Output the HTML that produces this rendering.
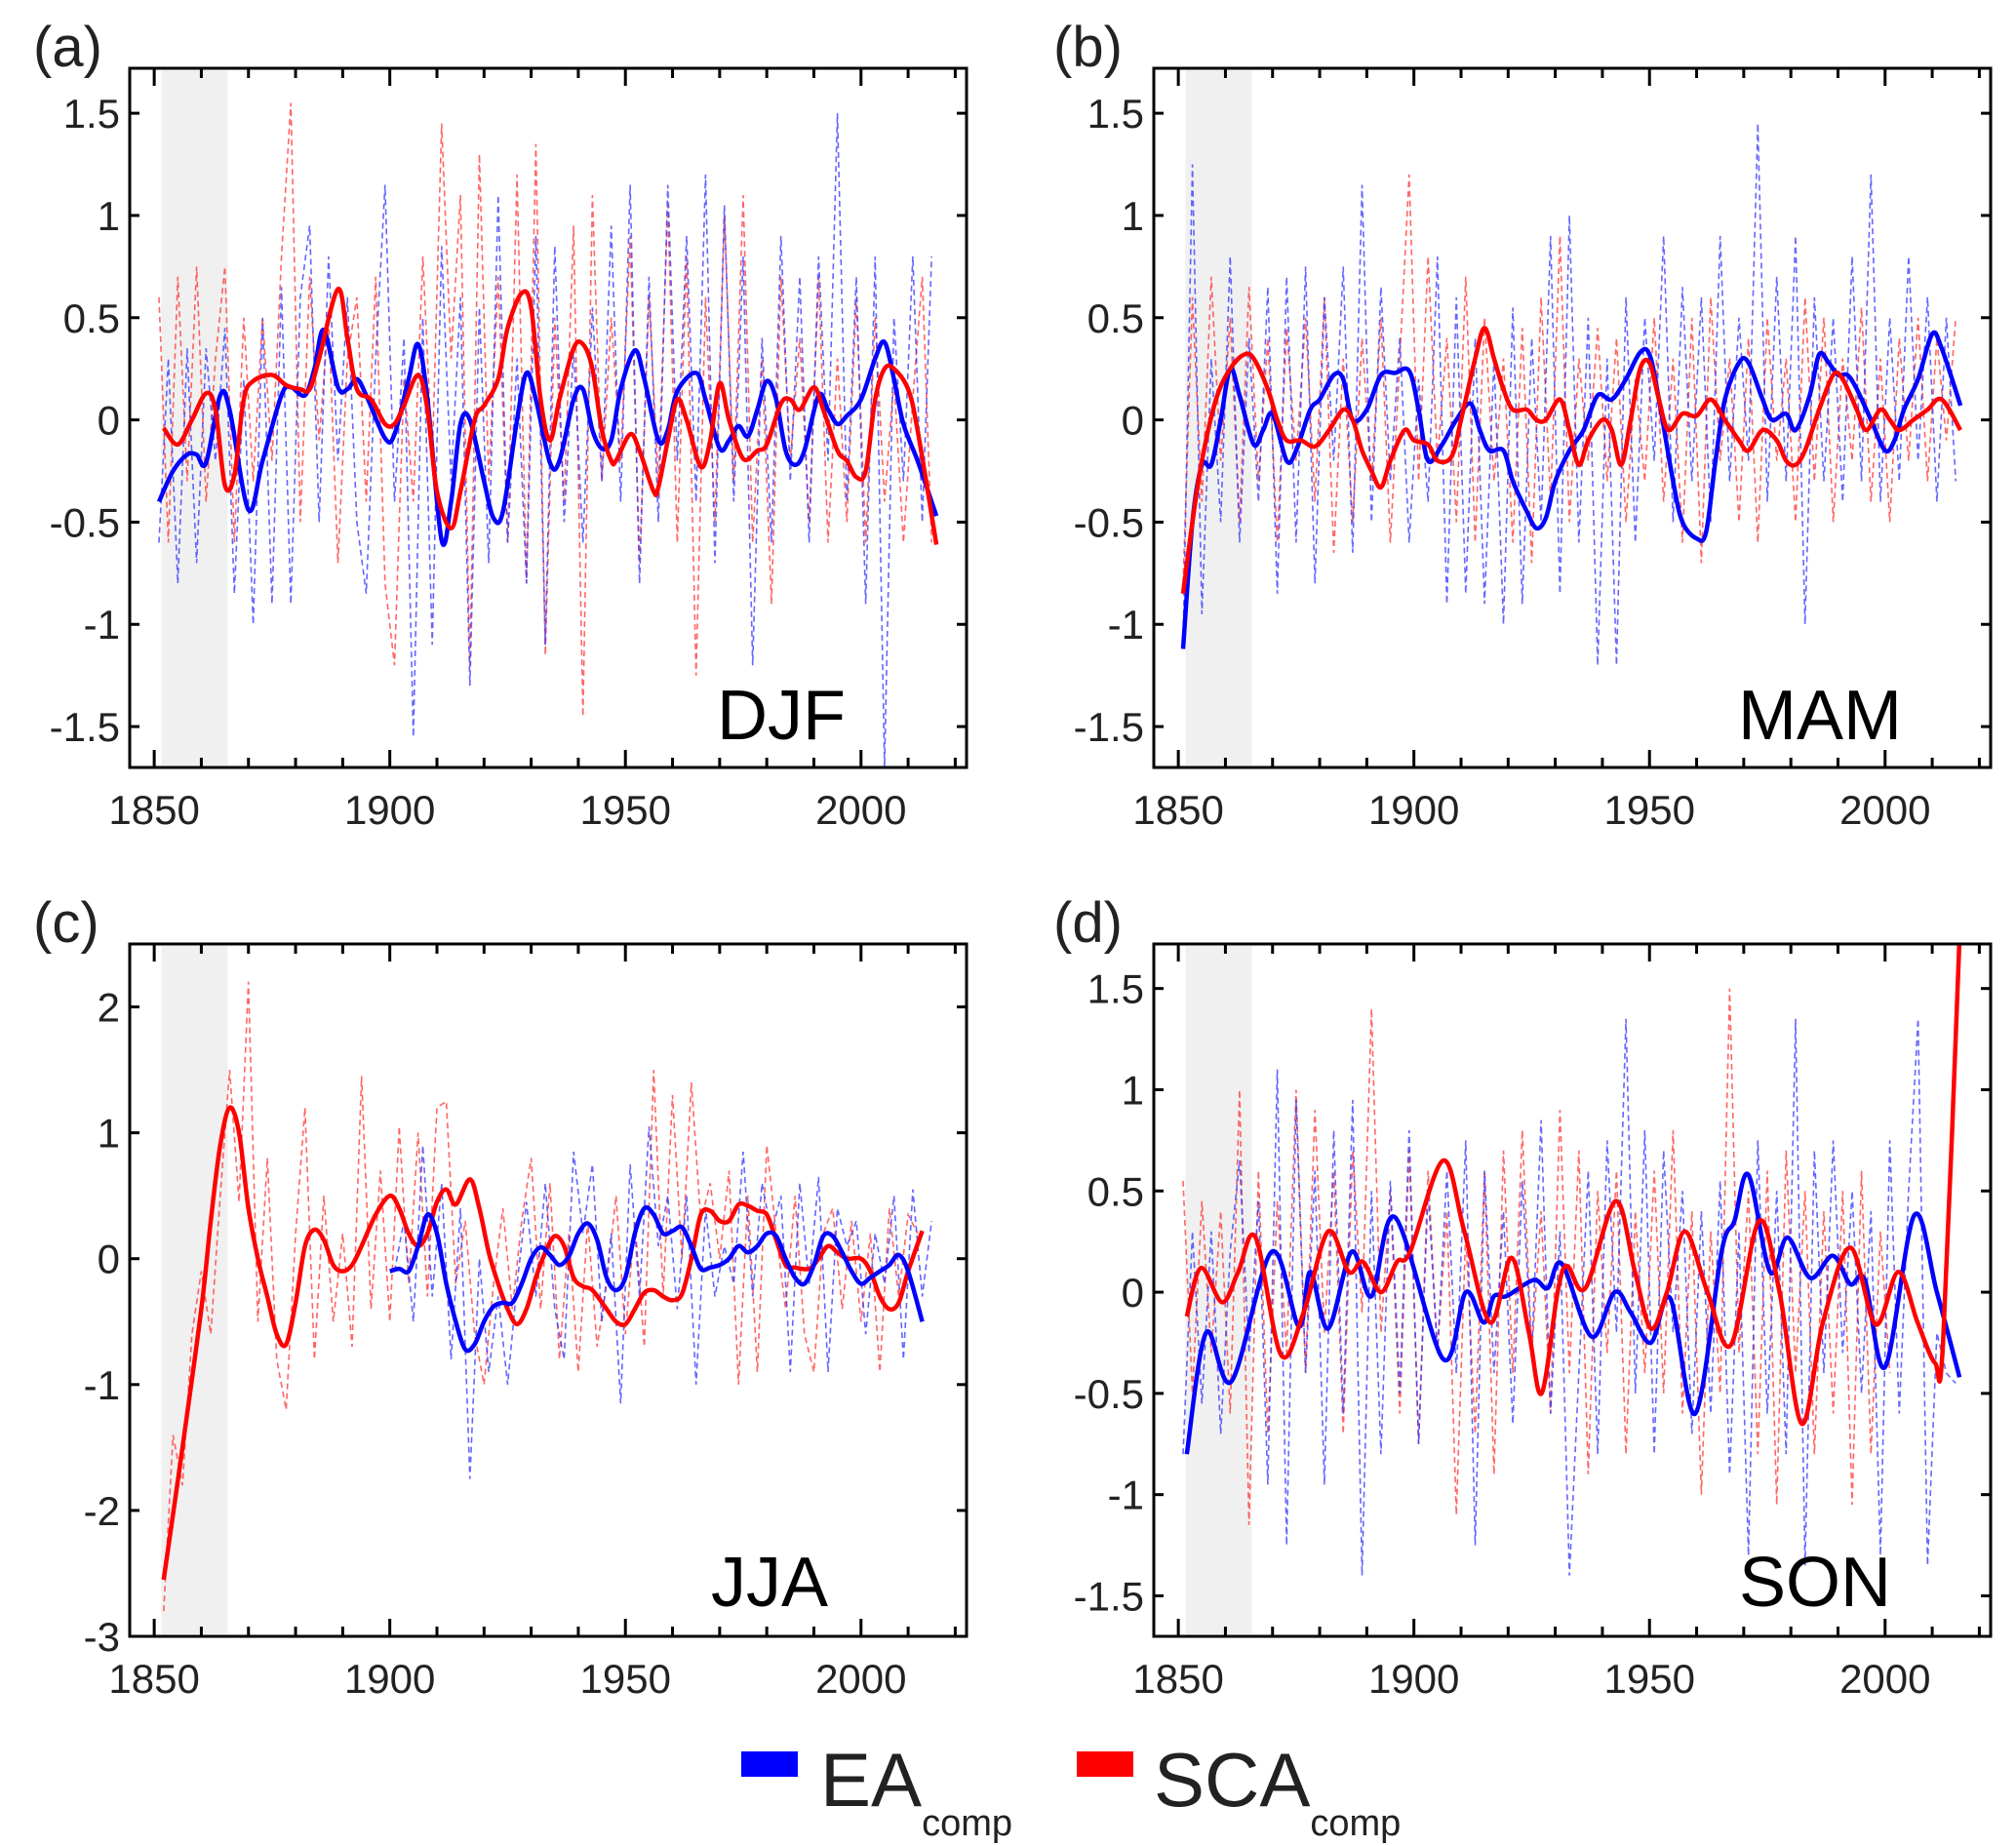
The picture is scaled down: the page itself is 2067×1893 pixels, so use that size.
<!DOCTYPE html>
<html><head><meta charset="utf-8">
<style>
html,body{margin:0;padding:0;background:#fff;}
svg{display:block;font-family:"Liberation Sans",Arial,sans-serif;}
</style></head>
<body>
<svg id="fig" width="2067" height="1893" viewBox="0 0 2067 1893" xmlns="http://www.w3.org/2000/svg">
<g id="panels"></g>
<g>
  <rect x="760" y="1796" width="58" height="26" fill="#0000ff"/>
  <text x="841" y="1852" font-size="78" fill="#222">EA<tspan font-size="38" dy="30">comp</tspan></text>
  <rect x="1104" y="1796" width="58" height="26" fill="#ff0000"/>
  <text x="1183" y="1852" font-size="78" fill="#222">SCA<tspan font-size="38" dy="30">comp</tspan></text>
</g>
</svg>
<script>
// ---- Panel (a) DJF ----
const aEaYears=[1851,1854,1857,1859,1861,1864,1866,1870,1873,1877,1879,1882,1884,1886,1889,1891,1893,1895,1899,1901,1904,1906,1908,1911,1913,1915,1917,1920,1922,1924,1927,1929,1931,1934,1936,1939,1941,1943,1945,1947,1949,1952,1954,1957,1959,1961,1965,1967,1970,1972,1974,1976,1978,1980,1982,1984,1986,1988,1991,1993,1995,1997,2000,2003,2005,2007,2009,2012,2016];
const aEaVals=[-0.40,-0.25,-0.17,-0.17,-0.21,0.12,0.05,-0.44,-0.2,0.12,0.16,0.12,0.25,0.44,0.16,0.15,0.20,0.12,-0.09,-0.07,0.20,0.37,0.1,-0.59,-0.4,-0.02,0.0,-0.3,-0.48,-0.45,0.0,0.23,0.1,-0.21,-0.2,0.1,0.15,-0.05,-0.14,-0.1,0.15,0.34,0.2,-0.1,-0.05,0.14,0.23,0.1,-0.14,-0.1,-0.03,-0.08,0.05,0.19,0.1,-0.15,-0.22,-0.15,0.12,0.05,-0.02,0.02,0.1,0.3,0.38,0.2,-0.02,-0.2,-0.47];
const aScaYears=[1852,1855,1858,1861,1863,1865,1867,1869,1871,1875,1878,1881,1883,1885,1889,1891,1893,1896,1899,1901,1903,1906,1908,1910,1913,1915,1918,1920,1923,1925,1928,1930,1932,1934,1936,1939,1941,1943,1945,1947,1948,1951,1953,1956,1957,1959,1961,1963,1966,1968,1970,1972,1975,1978,1980,1983,1985,1987,1990,1992,1995,1997,1999,2001,2003,2005,2007,2010,2012,2016];
const aScaVals=[-0.04,-0.12,0.0,0.13,0.05,-0.32,-0.27,0.1,0.19,0.22,0.17,0.15,0.15,0.3,0.64,0.4,0.15,0.1,-0.02,-0.02,0.07,0.22,0.05,-0.35,-0.53,-0.35,0.0,0.07,0.2,0.45,0.62,0.55,0.1,-0.1,0.1,0.35,0.37,0.25,-0.05,-0.2,-0.2,-0.07,-0.15,-0.35,-0.33,-0.1,0.1,0.0,-0.23,-0.1,0.18,0.0,-0.19,-0.15,-0.12,0.08,0.1,0.05,0.16,0.05,-0.15,-0.2,-0.28,-0.25,0.1,0.25,0.25,0.15,-0.05,-0.61];
const aEaRaw=[-0.6,0.3,-0.8,0.35,-0.7,0.35,-0.2,0.45,-0.85,0.2,-1.0,0.5,-0.9,0.65,-0.9,0.6,0.95,-0.5,0.8,-0.2,0.6,-0.5,-0.85,0.3,1.15,-0.4,0.4,-1.55,0.5,-1.1,0.85,-0.3,0.6,-1.3,0.55,-0.7,1.1,-0.6,0.3,-0.8,0.9,-1.1,0.85,-0.5,0.35,-0.6,0.55,-0.3,0.95,-0.4,1.15,-0.8,0.7,-0.5,1.15,-0.2,0.9,-0.4,1.2,-0.7,1.05,-0.4,0.8,-1.2,0.4,-0.6,0.9,-0.3,0.7,-0.6,0.8,-0.2,1.5,-0.4,0.7,-0.9,0.8,-1.7,0.5,-0.3,0.8,-0.5,0.8];
const aScaRaw=[0.6,-0.6,0.7,-0.3,0.75,-0.4,0.3,0.75,-0.6,0.5,-0.3,0.5,-0.2,0.8,1.55,-0.5,0.7,-0.1,0.5,-0.7,0.3,0.6,-0.4,0.7,-0.8,-1.2,0.2,-0.4,0.8,-0.2,1.45,0.3,1.1,-1.2,1.3,-0.3,0.7,-0.6,1.2,-0.8,1.35,-1.15,0.5,-0.4,0.95,-1.45,1.1,-0.3,0.5,-0.2,0.9,-0.7,0.6,-0.3,1.05,-0.6,0.8,-1.25,0.6,-0.5,1.0,-0.3,1.1,-0.6,0.3,-0.9,0.7,-0.2,0.4,-0.5,0.7,-0.6,0.3,-0.5,0.6,-0.6,0.5,-0.4,0.2,-0.6,0.1,0.7,-0.6];

// ---- Panel (b) MAM ----
const bEaYears=[1851,1853,1855,1857,1859,1861,1863,1866,1868,1870,1873,1875,1878,1880,1883,1885,1887,1890,1893,1896,1899,1901,1903,1906,1909,1912,1914,1916,1919,1921,1924,1926,1928,1930,1933,1936,1939,1942,1945,1948,1950,1952,1955,1957,1960,1962,1964,1966,1969,1971,1974,1976,1979,1981,1984,1986,1988,1990,1992,1994,1997,2000,2002,2004,2007,2010,2012,2016];
const bEaVals=[-1.12,-0.5,-0.22,-0.22,0.0,0.25,0.12,-0.12,-0.05,0.03,-0.2,-0.15,0.05,0.1,0.22,0.2,0.0,0.05,0.22,0.23,0.24,0.05,-0.2,-0.12,0.0,0.08,-0.05,-0.15,-0.15,-0.3,-0.45,-0.53,-0.48,-0.3,-0.15,-0.05,0.12,0.1,0.2,0.33,0.32,0.1,-0.3,-0.5,-0.58,-0.55,-0.2,0.1,0.28,0.28,0.1,0.0,0.03,-0.05,0.12,0.32,0.28,0.22,0.22,0.15,0.0,-0.15,-0.1,0.05,0.2,0.42,0.35,0.07];
const bScaYears=[1851,1853,1855,1858,1861,1864,1866,1869,1871,1873,1876,1879,1882,1885,1887,1889,1891,1893,1895,1898,1900,1903,1905,1908,1910,1913,1915,1917,1919,1921,1924,1926,1928,1931,1933,1935,1937,1940,1942,1944,1946,1948,1950,1952,1954,1957,1960,1963,1966,1969,1971,1974,1977,1979,1981,1983,1986,1989,1991,1994,1996,1999,2001,2003,2006,2009,2012,2016];
const bScaVals=[-0.85,-0.5,-0.2,0.1,0.25,0.32,0.3,0.15,0.0,-0.1,-0.1,-0.13,-0.05,0.05,0.0,-0.15,-0.25,-0.33,-0.2,-0.05,-0.1,-0.12,-0.2,-0.18,0.0,0.3,0.45,0.3,0.15,0.05,0.05,0.0,0.0,0.1,-0.05,-0.22,-0.1,0.0,-0.05,-0.22,0.0,0.25,0.28,0.1,-0.05,0.03,0.02,0.1,0.0,-0.1,-0.15,-0.05,-0.1,-0.2,-0.22,-0.15,0.05,0.22,0.2,0.05,-0.05,0.05,0.0,-0.05,0.0,0.05,0.1,-0.05];
const bEaRaw=[-1.1,1.25,-0.95,0.3,-0.5,0.8,-0.6,0.4,-0.4,0.65,-0.85,0.7,-0.6,0.75,-0.8,0.6,-0.2,0.75,-0.65,1.15,-0.5,0.65,-0.3,0.4,-0.6,0.2,-0.4,0.8,-0.9,0.6,-0.85,0.4,-0.9,0.3,-1.0,0.55,-0.9,0.4,-0.5,0.9,-0.85,1.0,-0.6,0.5,-1.2,0.3,-1.2,0.6,-0.6,0.5,-0.2,0.9,-0.5,0.65,-0.3,0.6,-0.5,0.9,-0.3,0.5,-0.2,1.45,-0.4,0.7,-0.3,0.9,-1.0,0.6,-0.3,0.5,-0.4,0.8,-0.3,1.2,-0.4,0.5,-0.3,0.8,-0.2,0.6,-0.4,0.5,-0.3];
const bScaRaw=[-0.8,0.6,-0.4,0.7,-0.2,0.5,-0.5,0.65,-0.3,0.4,-0.6,0.45,-0.2,0.5,-0.4,0.6,-0.65,0.3,-0.5,0.4,-0.3,0.5,-0.6,0.3,1.2,-0.3,0.8,-0.2,0.4,-0.5,0.7,-0.6,0.5,-0.3,0.3,-0.6,0.45,-0.7,0.6,-0.4,0.9,-0.5,0.3,-0.2,0.45,-0.3,0.4,-0.5,0.2,-0.3,0.5,-0.4,0.3,-0.6,0.5,-0.7,0.6,-0.2,0.3,-0.5,0.4,-0.6,0.5,-0.2,0.3,-0.5,0.6,-0.3,0.5,-0.5,0.3,-0.2,0.55,-0.4,0.3,-0.5,0.4,-0.2,0.5,-0.3,0.4,-0.1,0.5];

// ---- Panel (c) JJA ----
const cEaYears=[1900,1902,1904,1906,1908,1910,1912,1914,1916,1918,1920,1922,1924,1926,1928,1930,1932,1934,1936,1938,1940,1942,1944,1946,1948,1950,1952,1954,1956,1958,1960,1962,1964,1966,1968,1970,1972,1974,1976,1978,1980,1982,1984,1986,1988,1990,1992,1994,1996,1998,2000,2002,2004,2006,2008,2010,2013];
const cEaVals=[-0.1,-0.08,-0.1,0.1,0.35,0.2,-0.2,-0.5,-0.72,-0.68,-0.5,-0.38,-0.35,-0.35,-0.2,0.0,0.09,0.03,-0.05,0.02,0.2,0.28,0.15,-0.15,-0.25,-0.15,0.2,0.4,0.35,0.2,0.22,0.25,0.1,-0.08,-0.07,-0.05,0.0,0.1,0.05,0.1,0.2,0.18,0.0,-0.15,-0.2,-0.05,0.18,0.18,0.05,-0.1,-0.2,-0.15,-0.1,-0.05,0.03,-0.1,-0.5];
const cScaYears=[1852,1856,1860,1862,1864,1866,1868,1870,1872,1874,1876,1878,1880,1882,1884,1886,1888,1890,1892,1894,1897,1900,1902,1904,1906,1908,1910,1912,1914,1917,1919,1921,1923,1925,1927,1929,1931,1933,1935,1937,1939,1941,1943,1946,1948,1950,1952,1954,1956,1958,1960,1962,1964,1966,1968,1970,1972,1974,1976,1978,1980,1982,1984,1986,1989,1991,1993,1995,1997,2000,2002,2004,2006,2008,2010,2013];
const cScaVals=[-2.55,-1.5,-0.4,0.3,0.9,1.2,1.0,0.4,0.0,-0.3,-0.6,-0.68,-0.35,0.1,0.23,0.15,-0.05,-0.1,-0.05,0.1,0.35,0.5,0.4,0.2,0.1,0.2,0.45,0.55,0.43,0.63,0.4,0.05,-0.2,-0.4,-0.52,-0.4,-0.15,0.05,0.18,0.1,-0.15,-0.22,-0.25,-0.4,-0.5,-0.52,-0.4,-0.27,-0.25,-0.3,-0.33,-0.28,0.0,0.35,0.38,0.3,0.3,0.43,0.42,0.38,0.35,0.15,-0.05,-0.07,-0.08,0.0,0.1,0.05,0.0,0.0,-0.1,-0.3,-0.4,-0.35,-0.1,0.22];
const cEaRaw=[-0.1,0.3,-0.5,0.9,-0.3,0.6,-0.8,0.4,-1.75,0.0,-0.9,-0.3,-1.0,-0.2,0.45,-0.3,0.6,-0.4,-0.8,0.85,0.2,0.75,-0.5,0.2,-1.15,0.75,-0.3,1.05,0.1,0.5,-0.4,0.5,-1.0,0.4,-0.3,0.1,-0.2,0.85,-0.3,0.6,0.2,0.5,-0.9,0.6,-0.2,0.65,-0.9,0.4,0.1,0.3,-0.6,0.2,-0.2,0.5,-0.8,0.55,-0.3,0.3];
const cScaRaw=[-2.8,-1.4,-1.8,-0.6,-0.1,-0.6,0.5,1.5,0.45,2.2,-0.5,0.8,-0.8,-1.2,0.2,1.2,-0.8,0.5,-0.5,0.2,-0.7,1.45,-0.4,0.7,-0.5,1.05,-0.2,1.0,-0.3,1.2,1.25,-0.2,0.3,-0.6,-1.0,-0.2,0.4,-0.4,0.3,0.8,-0.4,0.6,-0.8,0.2,-0.9,0.3,-0.7,-0.2,0.5,-0.6,0.3,-0.7,1.5,-0.3,1.3,0.0,1.4,0.3,0.6,0.0,0.7,-1.0,0.5,-0.9,0.9,0.2,-0.4,0.5,-0.6,-0.9,0.2,0.4,-0.4,0.3,-0.5,0.2,-0.9,0.4,-0.3,0.35,0.2];

// ---- Panel (d) SON ----
const dEaYears=[1851.8,1855.9,1861.3,1869.8,1875.6,1878,1881.8,1886.8,1891,1896,1906.2,1911,1914.8,1917,1919.6,1925.4,1928.4,1931.4,1937.7,1942.6,1946,1950.3,1954.4,1959.7,1965.3,1968,1971,1975.6,1979.3,1984.1,1988.9,1992.6,1995.7,2000,2006.2,2011,2015.8];
const dEaVals=[-0.8,-0.2,-0.44,0.2,-0.17,0.1,-0.18,0.2,-0.02,0.37,-0.33,0.0,-0.15,-0.02,-0.02,0.06,0.02,0.14,-0.22,0.0,-0.1,-0.25,-0.03,-0.6,0.2,0.35,0.58,0.1,0.27,0.07,0.18,0.04,0.06,-0.37,0.38,0.0,-0.42];
const dScaYears=[1851.8,1854.8,1859.3,1862.7,1866.4,1871.8,1876.6,1881.8,1886.2,1889.2,1893,1896.4,1899.2,1906.2,1910.7,1916.2,1920.7,1924.4,1927.1,1930.5,1932.5,1936.4,1942.8,1946.9,1950.3,1953.7,1957.5,1962.3,1967.3,1973.2,1977.6,1982.3,1986.8,1992.6,1998,2002.8,2006.9,2010.6,2012.3,2015.8];
const dScaVals=[-0.12,0.12,-0.05,0.1,0.27,-0.31,-0.1,0.3,0.1,0.15,0.0,0.15,0.2,0.65,0.3,-0.15,0.17,-0.2,-0.5,0.0,0.13,0.02,0.45,0.1,-0.18,0.0,0.3,0.0,-0.26,0.35,0.0,-0.65,-0.15,0.22,-0.16,0.1,-0.15,-0.35,-0.25,1.75];
const dEaRaw=[-0.8,0.3,-0.55,0.3,-0.7,0.2,0.65,-0.3,0.45,-0.95,1.1,-1.25,0.95,-0.4,0.6,-0.95,0.8,-0.6,0.95,-1.4,0.5,-0.8,0.55,-0.5,0.8,-0.75,0.5,-0.3,0.6,-0.4,0.75,-1.25,0.6,-0.4,0.4,-0.65,0.55,-0.3,0.85,-0.6,0.3,-1.4,-0.4,0.6,-0.8,0.75,-0.2,1.35,-0.5,0.8,-0.8,0.7,-0.2,0.5,-0.7,0.4,-0.6,0.55,-0.9,0.3,-1.3,0.75,-0.6,0.5,-0.8,1.35,-1.35,0.7,-0.4,0.75,-0.3,0.5,-0.5,0.4,-1.3,0.75,-0.6,0.5,1.35,-1.35,-0.2,-0.4,-0.45];
const dScaRaw=[0.55,-0.5,0.45,-0.3,0.4,-0.6,1.0,-1.15,0.6,-0.7,0.45,-0.3,1.0,-0.4,0.9,-0.2,0.6,-0.7,0.7,-0.1,1.4,-0.2,0.5,-0.6,0.7,-0.75,0.6,-0.3,0.4,-1.1,0.3,-0.7,0.6,-0.9,0.7,-0.4,0.8,-0.3,0.4,-0.6,0.9,-0.4,0.7,-0.9,0.5,-0.3,0.6,-0.8,0.4,-0.4,0.6,-0.5,0.8,-0.6,0.4,-1.0,0.3,-0.5,1.5,-0.3,0.5,-0.8,0.6,-1.05,0.7,-0.4,0.5,-0.8,0.4,-0.6,0.5,-1.05,0.6,-0.8,0.3,-0.4];

const xTickLabels=["1850","1900","1950","2000"];
const yTicksA=[-1.5,-1,-0.5,0,0.5,1,1.5];
const yTicksC=[-3,-2,-1,0,1,2];
const yTickLabelsA=["-1.5","-1","-0.5","0","0.5","1","1.5"];
const yTickLabelsC=["-3","-2","-1","0","1","2"];

const NS='http://www.w3.org/2000/svg';
const root=document.getElementById('panels');
function mk(tag,attrs,parent){const e=document.createElementNS(NS,tag);for(const k in attrs)e.setAttribute(k,attrs[k]);parent.appendChild(e);return e;}

function smoothPath(pts){
  if(pts.length<2)return '';
  let d='M'+pts[0][0].toFixed(1)+','+pts[0][1].toFixed(1);
  for(let i=0;i<pts.length-1;i++){
    const p0=pts[Math.max(0,i-1)],p1=pts[i],p2=pts[i+1],p3=pts[Math.min(pts.length-1,i+2)];
    const c1x=p1[0]+(p2[0]-p0[0])/6,c1y=p1[1]+(p2[1]-p0[1])/6;
    const c2x=p2[0]-(p3[0]-p1[0])/6,c2y=p2[1]-(p3[1]-p1[1])/6;
    d+='C'+c1x.toFixed(1)+','+c1y.toFixed(1)+' '+c2x.toFixed(1)+','+c2y.toFixed(1)+' '+p2[0].toFixed(1)+','+p2[1].toFixed(1);
  }
  return d;
}

const panels=[
 {id:'a',L:133,T:70,R:991,B:787,y0:-1.70,y1:1.72,yt:yTicksA,ytl:yTickLabelsA,season:'DJF',sx:735,sy:758,lab:'(a)',lx:34,ly:72,
  ea:[aEaYears,aEaVals],sca:[aScaYears,aScaVals],eaRaw:[1851,aEaRaw],scaRaw:[1851,aScaRaw]},
 {id:'b',L:1183,T:70,R:2041,B:787,y0:-1.70,y1:1.72,yt:yTicksA,ytl:yTickLabelsA,season:'MAM',sx:1782,sy:758,lab:'(b)',lx:1080,ly:72,
  ea:[bEaYears,bEaVals],sca:[bScaYears,bScaVals],eaRaw:[1851,bEaRaw],scaRaw:[1851,bScaRaw]},
 {id:'c',L:133,T:968,R:991,B:1678,y0:-3,y1:2.5,yt:yTicksC,ytl:yTickLabelsC,season:'JJA',sx:729,sy:1647,lab:'(c)',lx:34,ly:970,
  ea:[cEaYears,cEaVals],sca:[cScaYears,cScaVals],eaRaw:[1901,cEaRaw],scaRaw:[1852,cScaRaw]},
 {id:'d',L:1183,T:968,R:2041,B:1678,y0:-1.70,y1:1.72,yt:yTicksA,ytl:yTickLabelsA,season:'SON',sx:1783,sy:1647,lab:'(d)',lx:1080,ly:970,
  ea:[dEaYears,dEaVals],sca:[dScaYears,dScaVals],eaRaw:[1851,dEaRaw],scaRaw:[1851,dScaRaw]}
];
const X0=1844.8,X1=2022.4;

panels.forEach(p=>{
  const g=mk('g',{},root);
  
  
  const xs=v=>p.L+(v-X0)/(X1-X0)*(p.R-p.L);
  const ys=v=>p.B-(v-p.y0)/(p.y1-p.y0)*(p.B-p.T);
  const cp=mk('clipPath',{id:'clip-'+p.id},g);
  mk('rect',{x:p.L,y:p.T,width:p.R-p.L,height:p.B-p.T},cp);
  const shade=mk('rect',{x:xs(1851.5),y:p.T+2,width:xs(1865.6)-xs(1851.5),height:p.B-p.T-4,fill:'#f0f0f0'},g);
  
  
  const dg=mk('g',{'clip-path':'url(#clip-'+p.id+')'},g);
  function rawLine(spec,color,name){
    const start=spec[0],vals=spec[1];
    const pts=vals.map((v,i)=>[xs(start+i*2),ys(v)]);
    const el=mk('polyline',{points:pts.map(q=>q[0].toFixed(1)+','+q[1].toFixed(1)).join(' '),fill:'none',stroke:color,'stroke-width':1.6,'stroke-dasharray':'6,4','stroke-opacity':0.75},dg);
    
    
  }
  rawLine(p.scaRaw,'#ff3333','sca-annual-'+p.id);
  rawLine(p.eaRaw,'#3333ff','ea-annual-'+p.id);
  function smooth(spec,color,name){
    const pts=spec[0].map((yr,i)=>[xs(yr),ys(spec[1][i])]);
    const el=mk('path',{d:smoothPath(pts),fill:'none',stroke:color,'stroke-width':4.5,'stroke-linejoin':'round'},dg);
    
    
  }
  if(p.id==='c'){smooth(p.sca,'#ff0000','sca-smooth-'+p.id);smooth(p.ea,'#0000ff','ea-smooth-'+p.id);}
  else{smooth(p.ea,'#0000ff','ea-smooth-'+p.id);smooth(p.sca,'#ff0000','sca-smooth-'+p.id);}
  const fr=mk('rect',{x:p.L,y:p.T,width:p.R-p.L,height:p.B-p.T,fill:'none',stroke:'#000','stroke-width':3},g);
  
  
  const ax=mk('g',{},g);
  
  
  for(let yr=1850;yr<=2020;yr+=10){
    const x=xs(yr),len=(yr%50===0)?18:10;
    mk('line',{x1:x,y1:p.B,x2:x,y2:p.B-len,stroke:'#000','stroke-width':3},ax);
    mk('line',{x1:x,y1:p.T,x2:x,y2:p.T+len,stroke:'#000','stroke-width':3},ax);
  }
  xTickLabels.forEach(s=>{
    const t=mk('text',{x:xs(+s),y:p.B+58,'text-anchor':'middle','font-size':42,fill:'#222'},ax);
    t.textContent=s;
    
    
  });
  const ay=mk('g',{},g);
  
  
  p.yt.forEach((v,i)=>{
    const y=ys(v);
    mk('line',{x1:p.L,y1:y,x2:p.L+10,y2:y,stroke:'#000','stroke-width':3},ay);
    mk('line',{x1:p.R,y1:y,x2:p.R-10,y2:y,stroke:'#000','stroke-width':3},ay);
    const t=mk('text',{x:p.L-10,y:y+15,'text-anchor':'end','font-size':42,fill:'#222'},ay);
    t.textContent=p.ytl[i];
    
    
  });
  const st=mk('text',{x:p.sx,y:p.sy,'font-size':72,fill:'#000'},g);
  st.textContent=p.season;
  
  
  const pl=mk('text',{x:p.lx,y:p.ly-4,'font-size':58,fill:'#222'},g);
  pl.textContent=p.lab;
  
  
});
</script>
</body></html>
